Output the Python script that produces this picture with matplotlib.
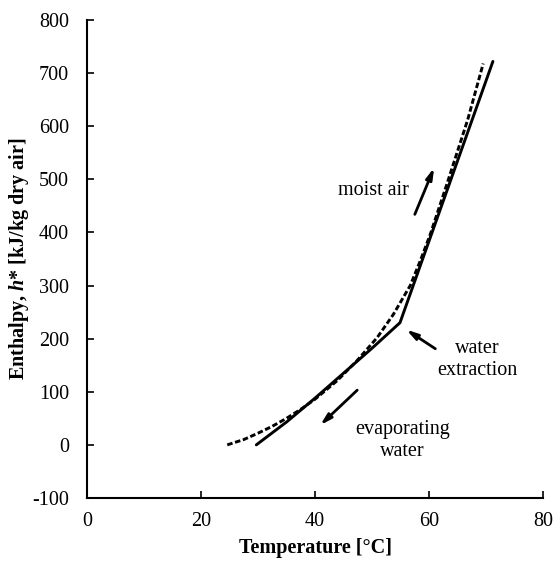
import matplotlib
matplotlib.use('Agg')
from matplotlib import pyplot as plt

# solid line: process path with water extraction kink near 55 C
process_temp = [29.7, 35, 40, 45, 50, 54.9, 71.2]
process_h = [0, 43, 88, 135, 182, 230, 722]

# dashed line: saturated moist air
sat_temp = [24.6, 27.5, 30, 32.5, 35, 37.5, 40, 43.9, 47.4, 50.9, 53.7,
            56.7, 58.4, 60.2, 63.1, 66.8, 69.5]
sat_h = [0, 10, 22, 35, 50, 67, 86, 121, 159, 202, 245,
         300, 345, 396, 490, 613, 718]

x_ticks = [0, 20, 40, 60, 80]
y_ticks = [-100, 0, 100, 200, 300, 400, 500, 600, 700, 800]

plt.rcParams['font.family'] = ['Liberation Serif', 'DejaVu Serif']
plt.rcParams['axes.unicode_minus'] = False
plt.rcParams['mathtext.fontset'] = 'custom'
plt.rcParams['mathtext.it'] = 'Liberation Serif:bold:italic'
plt.rcParams['mathtext.rm'] = 'Liberation Serif:bold'

fig = plt.figure(figsize=(5.57, 5.63), dpi=100)
ax = fig.add_axes([0.1562, 0.1155, 0.8188, 0.849])

ax.plot(process_temp, process_h, color='black', lw=2.1, solid_capstyle='round',
        solid_joinstyle='miter')
ax.plot(sat_temp, sat_h, color='black', lw=2.1, linestyle=(0, (1.9, 0.9)))

ax.set_xlim(0, 80)
ax.set_ylim(-100, 800)
ax.set_xticks(x_ticks)
ax.set_yticks(y_ticks)
ax.tick_params(direction='in', length=5, width=1.2, labelsize=14.5)
ax.tick_params(axis='x', pad=10)
ax.tick_params(axis='y', pad=13)
for side in ['top', 'right']:
    ax.spines[side].set_visible(False)
for side in ['left', 'bottom']:
    ax.spines[side].set_linewidth(1.5)

ax.set_xlabel('Temperature [°C]', fontsize=14.5, fontweight='bold', labelpad=5)
ax.set_ylabel(r'Enthalpy, $h$* [kJ/kg dry air]', fontsize=14.5,
              fontweight='bold', labelpad=1)

arrow = dict(arrowstyle='-|>,head_length=0.65,head_width=0.18', color='black', lw=2.0,
             shrinkA=0, shrinkB=0)
ax.annotate('', xy=(60.9, 522), xytext=(57.5, 434), arrowprops=arrow)
ax.annotate('', xy=(56.0, 217), xytext=(61.1, 181), arrowprops=arrow)
ax.annotate('', xy=(40.9, 37), xytext=(47.4, 103), arrowprops=arrow)

ax.text(50.3, 478, 'moist air', fontsize=14.5, ha='center', va='center')
ax.text(68.4, 161, 'water\nextraction', fontsize=14.5, ha='center', va='center',
        linespacing=1.2)
ax.text(55.3, 8, 'evaporating\nwater', fontsize=14.5, ha='center', va='center',
        linespacing=1.2)

fig.savefig('out.png', dpi=100)
